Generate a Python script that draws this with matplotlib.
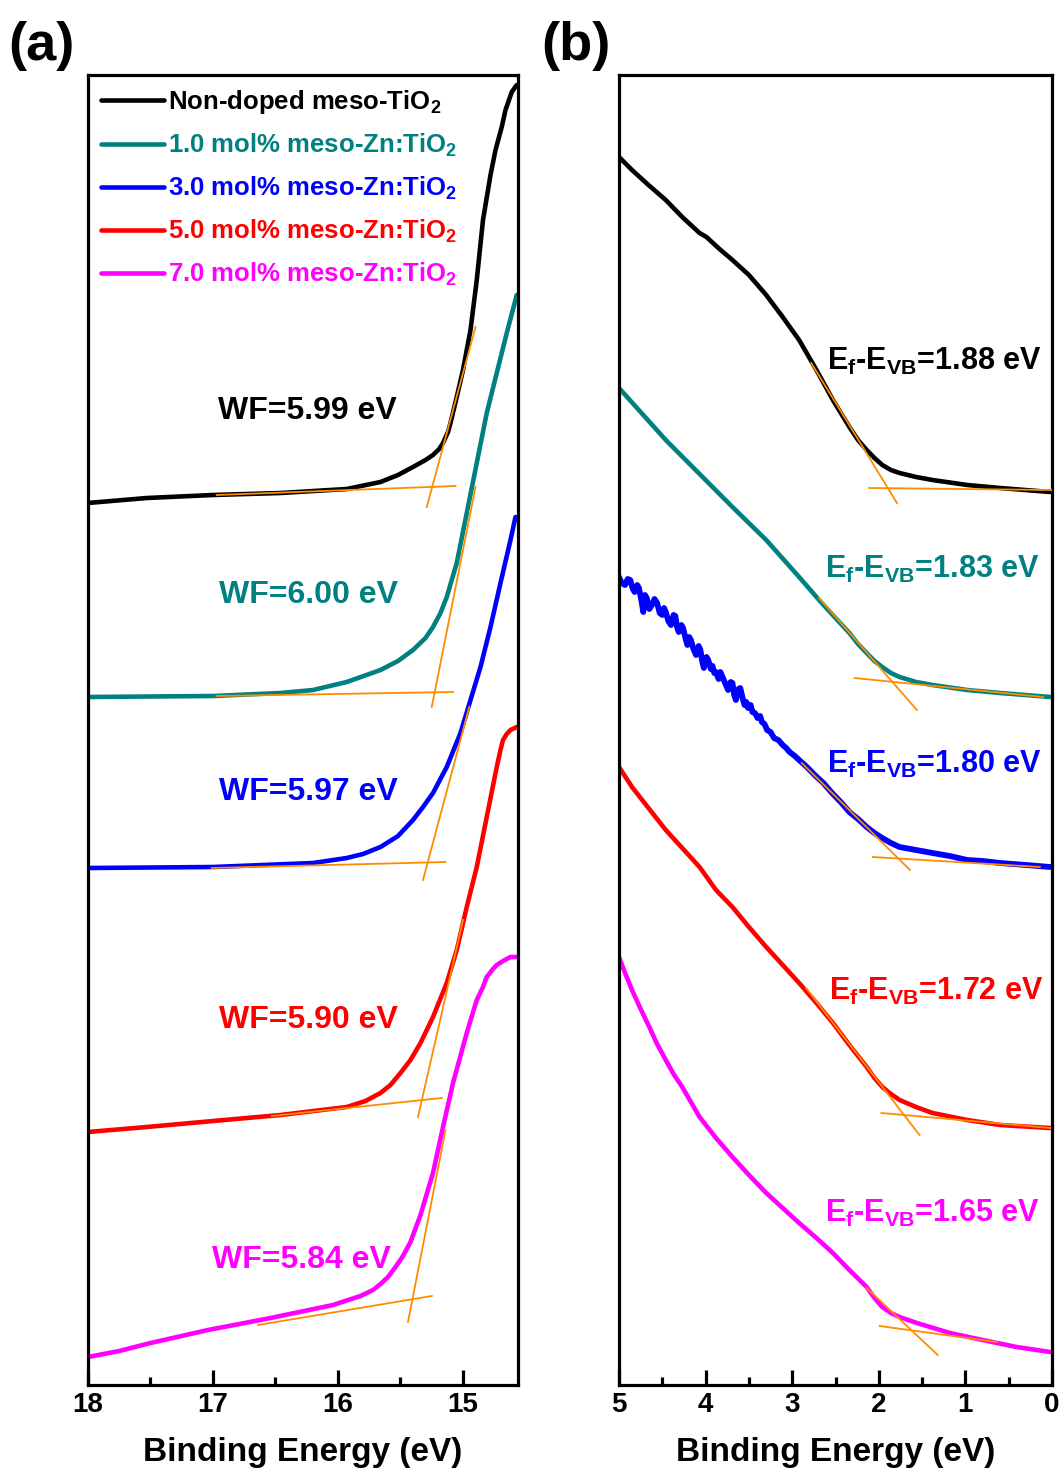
import matplotlib
matplotlib.use('Agg')
import matplotlib.pyplot as plt
from matplotlib.ticker import MultipleLocator

plt.rcParams['font.family'] = ['Liberation Sans', 'DejaVu Sans']
plt.rcParams['font.weight'] = 'bold'
plt.rcParams['axes.labelweight'] = 'bold'
plt.rcParams['mathtext.fontset'] = 'custom'
plt.rcParams['mathtext.rm'] = 'Liberation Sans:bold'
plt.rcParams['mathtext.it'] = 'Liberation Sans:bold'
plt.rcParams['mathtext.bf'] = 'Liberation Sans:bold'

colors = ['#000000', '#008080', '#0000FF', '#FF0000', '#FF00FF']
tangent_color = '#FF8C00'
labels = ['Non-doped meso-TiO$_2$', '1.0 mol% meso-Zn:TiO$_2$', '3.0 mol% meso-Zn:TiO$_2$',
          '5.0 mol% meso-Zn:TiO$_2$', '7.0 mol% meso-Zn:TiO$_2$']
wf_text = ['WF=5.99 eV', 'WF=6.00 eV', 'WF=5.97 eV', 'WF=5.90 eV', 'WF=5.84 eV']
vb_text = ['1.88', '1.83', '1.80', '1.72', '1.65']

# ---- (a) secondary electron cutoff region ----
a_black_x = [18.00, 17.53, 17.00, 16.46, 15.93, 15.66, 15.52, 15.40, 15.30, 15.24, 15.19, 15.16,
             15.12, 15.10, 15.05, 15.00, 14.94, 14.89, 14.84, 14.78, 14.74, 14.69, 14.66, 14.61, 14.57]
a_black_y = [882, 887, 890, 892, 896, 903, 910, 918, 925, 930, 936, 942, 953, 962, 988, 1015, 1055,
             1105, 1165, 1210, 1235, 1258, 1275, 1293, 1300]
a_teal_x = [18.00, 17.00, 16.46, 16.20, 15.93, 15.66, 15.52, 15.40, 15.30, 15.24, 15.18, 15.13,
            15.05, 14.97, 14.89, 14.81, 14.73, 14.65, 14.57]
a_teal_y = [688, 689, 692, 695, 703, 715, 724, 735, 747, 758, 772, 788, 822, 872, 922, 972, 1012,
            1052, 1090]
a_blue_x = [18.00, 17.00, 16.20, 15.93, 15.80, 15.66, 15.52, 15.40, 15.32, 15.24, 15.13, 15.02,
            14.94, 14.86, 14.78, 14.70, 14.62, 14.58]
a_blue_y = [517, 518, 522, 527, 531, 538, 549, 565, 578, 592, 618, 652, 685, 718, 758, 802, 845, 868]
a_red_x = [18.00, 17.53, 17.00, 16.46, 15.93, 15.78, 15.66, 15.58, 15.50, 15.42, 15.34, 15.24,
           15.13, 15.05, 14.97, 14.89, 14.81, 14.73, 14.70, 14.68, 14.65, 14.62, 14.57]
a_red_y = [253, 258, 264, 270, 278, 284, 292, 300, 312, 325, 342, 368, 402, 435, 478, 518, 568,
           618, 635, 645, 651, 655, 658]
a_mag_x = [18.00, 17.75, 17.50, 17.04, 16.54, 16.04, 15.82, 15.72, 15.66, 15.60, 15.54, 15.48,
           15.42, 15.34, 15.24, 15.16, 15.08, 14.97, 14.89, 14.84, 14.81, 14.76, 14.73, 14.68,
           14.62, 14.57]
a_mag_y = [28, 34, 42, 55, 67, 80, 89, 95, 101, 108, 118, 129, 143, 170, 212, 258, 302, 352, 385,
           398, 408, 416, 420, 424, 428, 428]

# tangent segments (x0, x1), (y0, y1): baseline and edge for each sample
a_base = [((16.97, 15.06), (890, 899)), ((16.97, 15.08), (689, 693)), ((17.01, 15.14), (517, 523)),
          ((16.53, 15.17), (269, 287)), ((16.64, 15.25), (60, 89))]
a_edge = [((15.29, 14.90), (878, 1058)), ((15.25, 14.90), (678, 898)), ((15.32, 14.95), (505, 678)),
          ((15.36, 15.00), (268, 465)), ((15.44, 15.14), (63, 255))]
a_label_x = [15.53, 15.52, 15.52, 15.52, 15.58]
a_label_y = [974, 790, 593, 365, 125]

# ---- (b) valence band region ----
b_black_x = [5.00, 4.85, 4.66, 4.46, 4.27, 4.07, 3.99, 3.84, 3.69, 3.50, 3.30, 3.11, 2.92, 2.72,
             2.53, 2.34, 2.24, 2.14, 2.05, 1.96, 1.86, 1.76, 1.57, 1.38, 0.98, 0.60, 0.02]
b_black_y = [1228, 1215, 1200, 1185, 1168, 1152, 1148, 1136, 1125, 1110, 1090, 1068, 1045, 1015,
             985, 958, 945, 935, 927, 920, 915, 912, 908, 905, 900, 897, 893]
b_teal_x = [5.00, 4.46, 3.69, 3.30, 2.92, 2.69, 2.50, 2.34, 2.24, 2.14, 2.05, 1.96, 1.86, 1.76,
            1.57, 1.38, 0.98, 0.60, 0.02]
b_teal_y = [997, 945, 878, 845, 808, 785, 767, 752, 741, 732, 724, 718, 712, 708, 703, 700, 695,
            692, 688]
b_blue_x = [5.00, 4.97, 4.93, 4.90, 4.87, 4.84, 4.82, 4.79, 4.77, 4.74, 4.72, 4.70, 4.68, 4.65,
            4.62, 4.59, 4.56, 4.53, 4.50, 4.48, 4.46, 4.43, 4.40, 4.37, 4.35, 4.33, 4.31, 4.28,
            4.26, 4.23, 4.21, 4.19, 4.17, 4.14, 4.11, 4.08, 4.06, 4.04, 4.02, 3.99, 3.97, 3.94,
            3.92, 3.90, 3.88, 3.85, 3.83, 3.81, 3.79, 3.76, 3.74, 3.71, 3.69, 3.67, 3.65, 3.62,
            3.60, 3.57, 3.55, 3.53, 3.51, 3.48, 3.46, 3.43, 3.40, 3.37, 3.35, 3.32, 3.29, 3.25,
            3.21, 3.16, 3.11, 3.07, 3.03, 2.97, 2.92, 2.83, 2.74, 2.64, 2.54, 2.44, 2.34, 2.24,
            2.14, 2.05, 1.96, 1.86, 1.76, 1.57, 1.38, 1.18, 0.98, 0.80, 0.60, 0.30, 0.02]
b_blue_y = [808, 802, 800, 806, 805, 796, 793, 800, 797, 784, 773, 790, 787, 776, 780, 786, 782,
            772, 770, 777, 773, 764, 760, 770, 769, 758, 753, 760, 757, 746, 740, 748, 745, 736,
            730, 739, 735, 724, 717, 728, 725, 716, 719, 712, 713, 706, 713, 709, 705, 699, 695,
            703, 702, 690, 685, 696, 697, 686, 680, 683, 677, 680, 673, 672, 667, 669, 663, 661,
            655, 653, 647, 645, 640, 637, 633, 629, 625, 618, 610, 602, 592, 583, 573, 566, 558,
            552, 547, 542, 538, 535, 532, 529, 525, 524, 522, 520, 518]
b_red_x = [5.00, 4.85, 4.66, 4.46, 4.27, 4.07, 3.88, 3.69, 3.50, 3.30, 3.11, 2.92, 2.72, 2.53,
           2.34, 2.24, 2.14, 2.05, 1.96, 1.86, 1.76, 1.57, 1.38, 0.98, 0.60, 0.02]
b_red_y = [618, 598, 577, 555, 537, 518, 495, 478, 458, 438, 420, 402, 382, 362, 340, 329, 318,
           307, 298, 291, 285, 278, 272, 265, 260, 257]
b_mag_x = [5.00, 4.93, 4.85, 4.75, 4.65, 4.56, 4.46, 4.37, 4.27, 4.17, 4.07, 3.88, 3.69, 3.50,
           3.30, 3.11, 2.92, 2.72, 2.53, 2.34, 2.14, 2.05, 1.96, 1.86, 1.76, 1.56, 1.18, 0.80,
           0.41, 0.02]
b_mag_y = [428, 412, 395, 376, 358, 341, 325, 311, 298, 283, 268, 247, 228, 210, 192, 177, 162,
           147, 132, 115, 98, 87, 78, 72, 68, 62, 52, 45, 38, 33]

b_base = [((2.11, 0.00), (897, 895)), ((2.28, 0.10), (707, 688)), ((2.07, 0.14), (528, 518)),
          ((1.97, 0.02), (272, 257)), ((1.99, 0.64), (59, 43))]
b_edge = [((2.78, 1.79), (1022, 882)), ((2.69, 1.56), (787, 675)), ((2.89, 1.64), (622, 515)),
          ((2.84, 1.53), (397, 250)), ((2.14, 1.32), (97, 30))]
b_label_x = [0.12, 0.14, 0.12, 0.10, 0.14]
b_label_y = [1015, 807, 612, 385, 163]

a_series = [(a_black_x, a_black_y), (a_teal_x, a_teal_y), (a_blue_x, a_blue_y),
            (a_red_x, a_red_y), (a_mag_x, a_mag_y)]
b_series = [(b_black_x, b_black_y), (b_teal_x, b_teal_y), (b_blue_x, b_blue_y),
            (b_red_x, b_red_y), (b_mag_x, b_mag_y)]

fig = plt.figure(figsize=(10.62, 14.72), dpi=100)
ax1 = fig.add_axes([88 / 1062, 1 - 1385 / 1472, 430 / 1062, 1310 / 1472])
ax2 = fig.add_axes([619 / 1062, 1 - 1385 / 1472, 433 / 1062, 1310 / 1472])

for i, (x, y) in enumerate(a_series):
    ax1.plot(x, y, color=colors[i], lw=3.3, label=labels[i], solid_capstyle='round',
             solid_joinstyle='round')
    for seg in (a_base[i], a_edge[i]):
        ax1.plot(seg[0], seg[1], color=tangent_color, lw=1.3, zorder=5)
    ax1.text(a_label_x[i], a_label_y[i], wf_text[i], color=colors[i], fontsize=23,
             ha='right', va='center')

for i, (x, y) in enumerate(b_series):
    ax2.plot(x, y, color=colors[i], lw=4.2 if i == 2 else 3.3, solid_capstyle='round',
             solid_joinstyle='round')
    for seg in (b_base[i], b_edge[i]):
        ax2.plot(seg[0], seg[1], color=tangent_color, lw=1.3, zorder=5)
    ax2.text(b_label_x[i], b_label_y[i], 'E$_{f}$-E$_{VB}$=' + vb_text[i] + ' eV',
             color=colors[i], fontsize=22, ha='right', va='baseline')

ax1.set_xlim(18, 14.56)
ax2.set_xlim(5, 0)
ax1.xaxis.set_major_locator(MultipleLocator(1))
ax1.xaxis.set_minor_locator(MultipleLocator(0.5))
ax2.xaxis.set_major_locator(MultipleLocator(1))
ax2.xaxis.set_minor_locator(MultipleLocator(0.5))

for ax in (ax1, ax2):
    ax.set_ylim(0, 1310)
    ax.set_yticks([])
    for s in ax.spines.values():
        s.set_linewidth(2.3)
    ax.tick_params(axis='x', which='major', direction='in', length=11, width=2.3,
                   labelsize=20, pad=5)
    ax.tick_params(axis='x', which='minor', direction='in', length=6, width=2.3)
    ax.set_xlabel('Binding Energy (eV)', fontsize=24, labelpad=14)

leg = ax1.legend(loc='upper left', bbox_to_anchor=(0.0, 1.0), frameon=False, fontsize=18.5,
                 handlelength=2.45, handletextpad=0.15, labelspacing=0.62, borderaxespad=0.2,
                 borderpad=0.3, labelcolor='linecolor')

fig.text(8 / 1062, 1 - 46 / 1472, '(a)', fontsize=39, ha='left', va='center')
fig.text(541 / 1062, 1 - 46 / 1472, '(b)', fontsize=39, ha='left', va='center')

fig.savefig('out.png', dpi=100)
